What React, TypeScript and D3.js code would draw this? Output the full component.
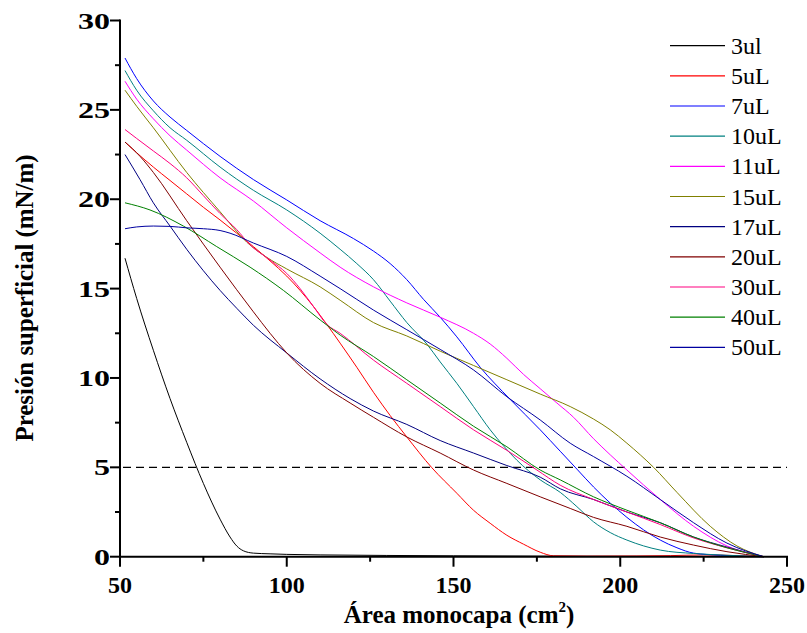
import React from "react";
import * as d3 from "d3";

const seriesNames = ["3ul", "5uL", "7uL", "10uL", "11uL", "15uL", "17uL", "20uL", "30uL", "40uL", "50uL"];
const seriesColors = ["#000000", "#ff0000", "#0000ff", "#008080", "#ff00ff", "#808000", "#000080", "#800000", "#ff0080", "#008000", "#0000a0"];

const x3 = [51.5, 55, 60, 65, 70, 75, 80, 83, 85, 87, 90, 95, 100, 110, 130, 150, 180, 243];
const y3 = [16.7, 14.45, 11.55, 8.85, 6.4, 4.1, 2.1, 1.1, 0.6, 0.33, 0.2, 0.16, 0.13, 0.1, 0.07, 0.05, 0.03, 0.0];

const x5 = [51.5, 55, 60, 65, 70, 75, 80, 85, 90, 95, 100, 104, 108, 112, 116, 121, 126, 131, 136, 143.5, 151, 156, 161, 166, 171, 176, 180, 190, 205, 215, 225, 235, 243];
const y5 = [23.2, 22.6, 21.8, 21.05, 20.3, 19.55, 18.84, 18.1, 17.35, 16.55, 15.7, 14.9, 14.0, 13.0, 11.95, 10.6, 9.2, 7.9, 6.7, 4.98, 3.55, 2.6, 1.87, 1.2, 0.7, 0.25, 0.05, 0.03, 0.04, 0.06, 0.1, 0.06, 0.0];

const x7 = [51.5, 55, 60, 65, 70, 80, 90, 100, 110, 120, 126, 131, 136, 141, 146, 151, 158, 167, 176, 182, 187, 192, 197, 202, 207, 212, 217, 222, 230, 243];
const y7 = [27.9, 26.75, 25.5, 24.6, 23.85, 22.4, 21.1, 19.96, 18.8, 17.8, 17.1, 16.4, 15.5, 14.4, 13.4, 12.3, 10.6, 8.8, 7.1, 5.9, 4.9, 3.9, 3.0, 2.2, 1.5, 0.93, 0.5, 0.2, 0.08, 0.0];

const x10 = [51.5, 55, 60, 65, 70, 80, 90, 100, 110, 116, 121, 126, 131, 136, 142, 146, 151, 156, 161, 165, 169, 176, 182, 187, 192, 197, 202, 212, 222, 232, 243];
const y10 = [27.2, 26.1, 24.95, 24.0, 23.3, 21.8, 20.5, 19.4, 18.1, 17.2, 16.4, 15.5, 14.3, 13.1, 11.9, 10.9, 9.7, 8.4, 7.1, 6.2, 5.4, 4.3, 3.6, 2.8, 1.95, 1.35, 0.93, 0.37, 0.18, 0.08, 0.0];

const x11 = [51.5, 55, 60, 65, 70, 80, 90, 100, 110, 116, 126, 136, 146, 156, 161, 166, 171, 176, 181, 186, 192, 197, 202, 212, 222, 232, 243];
const y11 = [26.6, 25.6, 24.5, 23.55, 22.75, 21.2, 19.9, 18.4, 17.0, 16.2, 15.1, 14.2, 13.4, 12.5, 11.9, 11.1, 10.2, 9.4, 8.6, 7.8, 6.6, 5.7, 4.85, 3.2, 1.7, 0.6, 0.0];

const x15 = [51.5, 55, 60, 70, 80, 88, 94, 100, 110, 116, 126, 136, 146, 156, 166, 176, 185, 192, 197, 202, 206, 210, 217, 227, 235, 243];
const y15 = [26.1, 25.2, 24.0, 21.5, 19.3, 17.6, 16.75, 16.1, 15.1, 14.35, 13.1, 12.35, 11.5, 10.7, 9.9, 9.1, 8.4, 7.7, 7.1, 6.35, 5.7, 5.0, 3.6, 1.7, 0.6, 0.0];

const x17 = [51.5, 56, 60, 65, 70, 75, 80, 85, 90, 100, 110, 119, 126, 136, 146, 156, 166, 176, 182, 192, 202, 212, 222, 232, 243];
const y17 = [22.5, 21.1, 19.8, 18.5, 17.2, 16.0, 14.9, 13.9, 12.95, 11.4, 9.95, 8.85, 8.15, 7.4, 6.5, 5.8, 5.1, 4.45, 3.8, 3.2, 2.5, 1.9, 1.1, 0.54, 0.0];

const x20 = [51.5, 56, 60, 70, 80, 90, 95, 100, 110, 119, 126, 136, 146, 156, 166, 176, 185, 192, 202, 212, 222, 232, 243];
const y20 = [23.2, 22.4, 21.5, 18.8, 16.2, 13.7, 12.5, 11.4, 9.7, 8.6, 7.8, 6.7, 5.8, 4.85, 4.1, 3.35, 2.7, 2.2, 1.7, 1.1, 0.65, 0.28, 0.0];

const x30 = [51.5, 55, 60, 65, 70, 75, 80, 85, 89, 95, 100, 104, 108, 112, 116, 126, 136, 146, 156, 166, 175, 182, 192, 202, 212, 222, 232, 243];
const y30 = [23.9, 23.4, 22.7, 22.0, 21.2, 20.2, 19.2, 18.3, 17.45, 16.6, 15.85, 15.0, 14.0, 13.0, 12.5, 11.0, 9.7, 8.4, 7.1, 5.95, 4.85, 4.0, 3.2, 2.5, 1.8, 1.05, 0.5, 0.0];

const x40 = [51.5, 59, 69, 79, 89, 99, 110, 116, 126, 136, 146, 156, 166, 176, 182, 192, 202, 212, 222, 232, 243];
const y40 = [19.8, 19.4, 18.5, 17.35, 16.2, 14.9, 13.25, 12.4, 11.2, 9.9, 8.6, 7.3, 6.15, 4.85, 4.3, 3.35, 2.6, 1.9, 1.1, 0.5, 0.0];

const x50 = [51.5, 55, 60, 65, 70, 75, 80, 83, 90, 100, 110, 116, 126, 136, 146, 156, 166, 176, 185, 192, 202, 212, 222, 232, 243];
const y50 = [18.35, 18.45, 18.5, 18.48, 18.4, 18.35, 18.25, 18.1, 17.55, 16.8, 15.7, 15.0, 13.8, 12.7, 11.6, 10.45, 8.95, 7.65, 6.35, 5.6, 4.5, 3.2, 1.9, 0.76, 0.0];

const seriesX = [x3, x5, x7, x10, x11, x15, x17, x20, x30, x40, x50];
const seriesY = [y3, y5, y7, y10, y11, y15, y17, y20, y30, y40, y50];

const xTicks = [50, 100, 150, 200, 250];
const xMinorTicks = [75, 125, 175, 225];
const yTicks = [0, 5, 10, 15, 20, 25, 30];
const yMinorTicks = [2.5, 7.5, 12.5, 17.5, 22.5, 27.5];
const refLine = 5;

const xTitle = "Área monocapa (cm";
const xTitleSup = "2";
const yTitle = "Presión superficial (mN/m)";

export default function App() {
  const W = 807, H = 633;
  const x = d3.scaleLinear().domain([50, 250]).range([120, 787]);
  const y = d3.scaleLinear().domain([0, 30]).range([556.7, 20.5]);
  const line = d3
    .line<[number, number]>()
    .x((d) => x(d[0]))
    .y((d) => y(d[1]))
    .curve(d3.curveMonotoneX);

  const font = "'Liberation Serif', 'Times New Roman', serif";
  const x0 = x(50), y0 = y(0);

  return (
    <svg width={W} height={H} style={{ position: "absolute", left: 0, top: 0, background: "#fff", fontFamily: font }}>
      <rect width={W} height={H} fill="#fff" />
      <line x1={x(50) + 3} x2={x(250)} y1={y(refLine)} y2={y(refLine)} stroke="#000" strokeWidth={1.2} strokeDasharray="8,5" />
      {seriesX.map((xs, i) => {
        const pts: [number, number][] = xs.map((v, j) => [v, seriesY[i][j]]);
        return <path key={seriesNames[i]} d={line(pts) || ""} fill="none" stroke={seriesColors[i]} strokeWidth={1} />;
      })}
      <line x1={x0} x2={x0} y1={y(30) - 1} y2={y0 + 1} stroke="#000" strokeWidth={2} />
      <line x1={x0 - 1} x2={x(250) + 1} y1={y0} y2={y0} stroke="#000" strokeWidth={2} />
      {yTicks.map((t) => (
        <g key={"yt" + t}>
          <line x1={x0 - 10} x2={x0} y1={y(t)} y2={y(t)} stroke="#000" strokeWidth={2} />
          <text x={x0 - 10} y={y(t) + 8} textAnchor="end" fontSize={23} fontWeight="bold"
            textLength={String(t).length * 16} lengthAdjust="spacingAndGlyphs">{t}</text>
        </g>
      ))}
      {yMinorTicks.map((t) => (
        <line key={"ym" + t} x1={x0 - 5} x2={x0} y1={y(t)} y2={y(t)} stroke="#000" strokeWidth={2} />
      ))}
      {xTicks.map((t) => (
        <g key={"xt" + t}>
          <line x1={x(t)} x2={x(t)} y1={y0} y2={y0 + 10} stroke="#000" strokeWidth={2} />
          <text x={x(t)} y={593} textAnchor="middle" fontSize={24} fontWeight="bold">{t}</text>
        </g>
      ))}
      {xMinorTicks.map((t) => (
        <line key={"xm" + t} x1={x(t)} x2={x(t)} y1={y0} y2={y0 + 5} stroke="#000" strokeWidth={2} />
      ))}
      <text x={459} y={623} textAnchor="middle" fontSize={25} fontWeight="bold">
        {xTitle}
        <tspan fontSize={15} dy={-11}>{xTitleSup}</tspan>
        <tspan dy={11}>)</tspan>
      </text>
      <text transform="translate(33,298) rotate(-90)" textAnchor="middle" fontSize={25} fontWeight="bold"
        textLength={287} lengthAdjust="spacingAndGlyphs">{yTitle}</text>
      {seriesNames.map((n, i) => {
        const ly = 45.7 + 30.16 * i;
        return (
          <g key={"lg" + n}>
            <line x1={670} x2={725} y1={ly} y2={ly} stroke={seriesColors[i]} strokeWidth={1.2} />
            <text x={731} y={ly + 8} fontSize={24}>{n}</text>
          </g>
        );
      })}
    </svg>
  );
}
